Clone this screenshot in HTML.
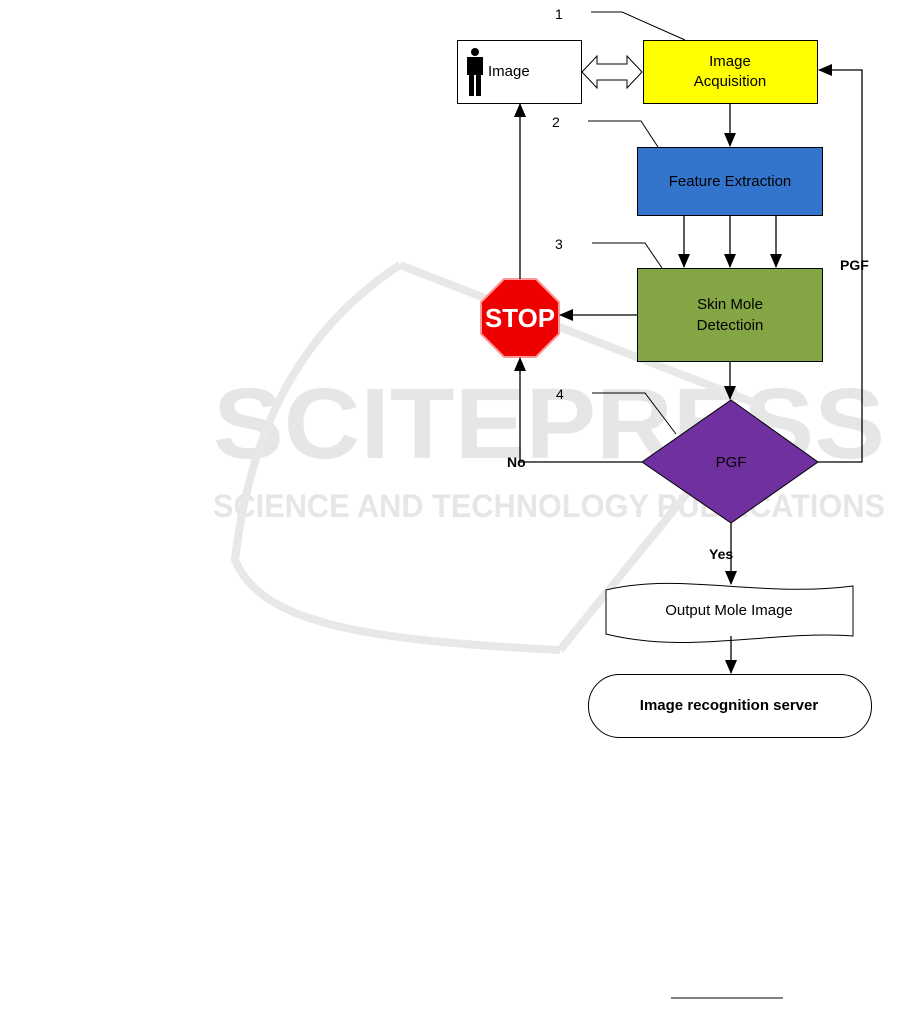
<!DOCTYPE html>
<html><head><style>
body{margin:0;background:#fff;width:901px;height:1025px;overflow:hidden}
svg text{font-family:"Liberation Sans",sans-serif}
</style></head><body>
<svg width="901" height="1025" viewBox="0 0 901 1025">
<defs><marker id="b" markerWidth="14" markerHeight="14" refX="13" refY="7" orient="auto" markerUnits="userSpaceOnUse"><path d="M0,1L14,7L0,13z" fill="#000"/></marker></defs>
<!-- watermark -->
<g fill="#e6e6e6">
<text x="213" y="458" font-size="100" font-weight="bold" textLength="672" lengthAdjust="spacingAndGlyphs">SCITEPRESS</text>
<text x="213" y="517" font-size="32" font-weight="bold" textLength="672" lengthAdjust="spacingAndGlyphs">SCIENCE AND TECHNOLOGY PUBLICATIONS</text>
</g>
<path d="M400,265 L760,405 M400,265 C300,330 250,430 235,560 C260,620 350,640 560,650 M560,650 L690,490" fill="none" stroke="#e8e8e8" stroke-width="8"/>
<!-- callout lines -->
<g fill="none" stroke="#000" stroke-width="1">
<path d="M591,12H622L685,40"/><path d="M588,121H641L658,147"/><path d="M592,243H645L662,268"/><path d="M592,393H645L676,434"/>
</g>
<g font-size="14"><text x="555" y="19">1</text><text x="552" y="127">2</text><text x="555" y="249">3</text><text x="556" y="399">4</text></g>
<!-- boxes -->
<rect x="457.5" y="40.5" width="124" height="63" fill="#fff" stroke="#000"/>
<g fill="#000"><circle cx="475" cy="52" r="4"/><rect x="467" y="57" width="16" height="18"/><rect x="469" y="74" width="5" height="22"/><rect x="476" y="74" width="5" height="22"/></g>
<text x="488" y="76" font-size="15">Image</text>
<path d="M582,72L597,56V64H627V56L642,72L627,88V80H597V88Z" fill="#fff" stroke="#000"/>
<rect x="643.5" y="40.5" width="174" height="63" fill="#ffff00" stroke="#000"/>
<text x="730" y="66" font-size="15" text-anchor="middle">Image</text>
<text x="730" y="86" font-size="15" text-anchor="middle">Acquisition</text>
<rect x="637.5" y="147.5" width="185" height="68" fill="#3375cc" stroke="#000"/>
<text x="730" y="186" font-size="15" text-anchor="middle">Feature Extraction</text>
<rect x="637.5" y="268.5" width="185" height="93" fill="#83a544" stroke="#000"/>
<text x="730" y="309" font-size="15" text-anchor="middle">Skin Mole</text>
<text x="730" y="330" font-size="15" text-anchor="middle">Detectioin</text>
<path d="M731,400L818,462L731,523L642,462Z" fill="#7030a0" stroke="#000"/>
<text x="731" y="467" font-size="15" text-anchor="middle">PGF</text>
<path d="M606,590C680,572 760,598 853,586V636C770,630 690,655 606,634Z" fill="#fff" stroke="#000"/>
<text x="729" y="615" font-size="15" text-anchor="middle">Output Mole Image</text>
<rect x="588.5" y="674.5" width="283" height="63" rx="31" fill="#fff" stroke="#000"/>
<text x="729" y="710" font-size="15" font-weight="bold" text-anchor="middle">Image recognition server</text>
<!-- stop -->
<g transform="translate(520,318)">
<polygon points="-16,-39 16,-39 39,-16 39,16 16,39 -16,39 -39,16 -39,-16" fill="#ee0000" stroke="#ff9999" stroke-width="2"/>
<text x="0" y="9" font-size="26" font-weight="bold" fill="#fff" text-anchor="middle" textLength="70" lengthAdjust="spacingAndGlyphs">STOP</text>
</g>
<!-- connectors -->
<g stroke="#000" stroke-width="1.3" fill="none">
<path d="M730,104V146" marker-end="url(#b)"/>
<path d="M684,216V267" marker-end="url(#b)"/><path d="M730,216V267" marker-end="url(#b)"/><path d="M776,216V267" marker-end="url(#b)"/>
<path d="M637,315H560" marker-end="url(#b)"/>
<path d="M520,279V104" marker-end="url(#b)"/>
<path d="M730,362V399" marker-end="url(#b)"/>
<path d="M642,462H520V358" marker-end="url(#b)"/>
<path d="M818,462H862V70H819" marker-end="url(#b)"/>
<path d="M731,523V584" marker-end="url(#b)"/>
<path d="M731,636V673" marker-end="url(#b)"/>
</g>
<g font-size="14" font-weight="bold"><text x="507" y="467">No</text><text x="709" y="559">Yes</text><text x="840" y="270">PGF</text></g>
<line x1="671" y1="998" x2="783" y2="998" stroke="#000"/>
</svg>
</body></html>
